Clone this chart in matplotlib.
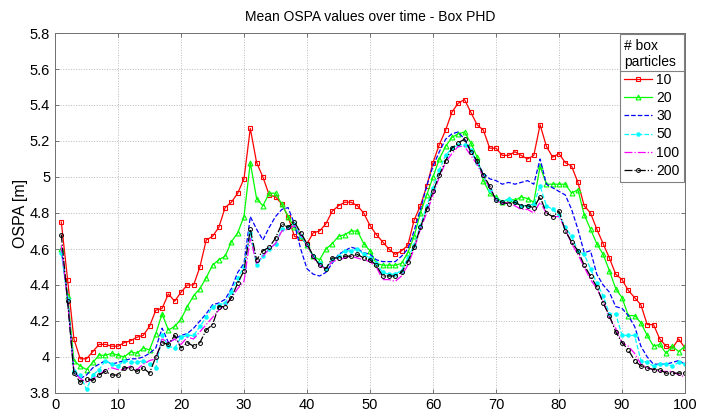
import numpy as np
import matplotlib
matplotlib.use("Agg")
import matplotlib.pyplot as plt
from matplotlib.lines import Line2D

plt.rcParams['font.family'] = ['Liberation Sans', 'DejaVu Sans']

time_steps = list(range(1, 101))

ospa_10 = [4.75, 4.43, 4.10, 3.99, 3.99, 4.03, 4.07, 4.07, 4.06, 4.06,
           4.08, 4.09, 4.11, 4.12, 4.17, 4.26, 4.27, 4.35, 4.31, 4.36,
           4.40, 4.40, 4.50, 4.65, 4.67, 4.72, 4.83, 4.86, 4.91, 4.99,
           5.27, 5.08, 5.00, 4.90, 4.89, 4.85, 4.78, 4.67, 4.66, 4.63,
           4.69, 4.70, 4.74, 4.81, 4.84, 4.86, 4.86, 4.84, 4.80, 4.73,
           4.68, 4.64, 4.60, 4.57, 4.59, 4.62, 4.76, 4.84, 4.95, 5.08,
           5.18, 5.26, 5.36, 5.41, 5.43, 5.36, 5.29, 5.26, 5.16, 5.16,
           5.12, 5.12, 5.14, 5.12, 5.10, 5.12, 5.29, 5.17, 5.11, 5.13,
           5.08, 5.06, 4.97, 4.84, 4.80, 4.71, 4.63, 4.55, 4.46, 4.43,
           4.37, 4.33, 4.29, 4.18, 4.18, 4.10, 4.06, 4.05, 4.10, 4.05]

ospa_20 = [4.60, 4.34, 3.98, 3.95, 3.93, 3.97, 4.01, 4.01, 4.02, 4.01,
           4.00, 4.03, 4.02, 4.05, 4.04, 4.13, 4.24, 4.15, 4.17, 4.21,
           4.28, 4.34, 4.38, 4.44, 4.51, 4.54, 4.56, 4.64, 4.69, 4.78,
           5.08, 4.88, 4.84, 4.91, 4.91, 4.85, 4.78, 4.72, 4.67, 4.62,
           4.56, 4.54, 4.60, 4.63, 4.67, 4.68, 4.70, 4.70, 4.63, 4.59,
           4.52, 4.51, 4.51, 4.51, 4.52, 4.58, 4.67, 4.80, 4.90, 5.00,
           5.10, 5.17, 5.22, 5.24, 5.25, 5.19, 5.11, 4.98, 4.91, 4.89,
           4.86, 4.88, 4.87, 4.89, 4.88, 4.86, 5.06, 4.96, 4.96, 4.96,
           4.96, 4.91, 4.93, 4.79, 4.71, 4.63, 4.57, 4.48, 4.38, 4.33,
           4.23, 4.23, 4.19, 4.12, 4.06, 4.07, 4.02, 4.06, 4.03, 4.06]

ospa_30 = [4.60, 4.33, 3.92, 3.88, 3.90, 3.94, 3.96, 3.98, 3.96, 3.97,
           3.98, 3.99, 3.99, 4.00, 4.02, 4.05, 4.16, 4.08, 4.10, 4.12,
           4.13, 4.16, 4.20, 4.24, 4.29, 4.30, 4.32, 4.38, 4.47, 4.52,
           4.78, 4.71, 4.65, 4.72, 4.78, 4.82, 4.83, 4.74, 4.60, 4.49,
           4.46, 4.45, 4.47, 4.52, 4.57, 4.59, 4.61, 4.60, 4.58, 4.57,
           4.54, 4.53, 4.53, 4.53, 4.56, 4.60, 4.70, 4.82, 4.95, 5.06,
           5.14, 5.21, 5.24, 5.25, 5.21, 5.15, 5.08, 5.02, 4.99, 4.98,
           4.96, 4.97, 4.96, 4.97, 4.98, 4.96, 5.10, 4.96, 4.94, 4.92,
           4.90, 4.82, 4.71, 4.58, 4.59, 4.46, 4.40, 4.36, 4.28, 4.27,
           4.23, 4.17, 4.06, 4.00, 3.96, 3.96, 3.96, 3.97, 3.98, 3.96]

ospa_50 = [4.58, 4.32, 3.92, 3.90, 3.82, 3.90, 3.93, 3.98, 3.96, 3.95,
           3.98, 3.97, 3.97, 3.98, 3.96, 3.94, 4.12, 4.06, 4.05, 4.11,
           4.12, 4.12, 4.17, 4.22, 4.28, 4.29, 4.30, 4.36, 4.44, 4.50,
           4.69, 4.51, 4.56, 4.60, 4.63, 4.71, 4.72, 4.74, 4.67, 4.62,
           4.56, 4.52, 4.49, 4.54, 4.56, 4.59, 4.59, 4.60, 4.57, 4.55,
           4.52, 4.47, 4.46, 4.46, 4.48, 4.55, 4.62, 4.73, 4.84, 4.94,
           5.04, 5.12, 5.16, 5.18, 5.18, 5.15, 5.08, 5.01, 4.93, 4.88,
           4.86, 4.88, 4.86, 4.84, 4.84, 4.85, 4.95, 4.84, 4.82, 4.79,
           4.72, 4.67, 4.59, 4.57, 4.49, 4.41, 4.34, 4.24, 4.24, 4.12,
           4.12, 4.12, 3.98, 3.97, 3.95, 3.96, 3.96, 3.95, 3.97, 3.96]

ospa_100 = [4.62, 4.31, 3.92, 3.88, 3.86, 3.88, 3.90, 3.93, 3.94, 3.93,
            3.93, 3.95, 3.93, 3.96, 3.98, 3.99, 4.10, 4.08, 4.10, 4.07,
            4.11, 4.10, 4.14, 4.18, 4.22, 4.26, 4.29, 4.33, 4.38, 4.42,
            4.66, 4.52, 4.56, 4.60, 4.63, 4.70, 4.71, 4.73, 4.68, 4.62,
            4.55, 4.51, 4.49, 4.53, 4.54, 4.55, 4.56, 4.55, 4.54, 4.53,
            4.50, 4.43, 4.43, 4.42, 4.45, 4.51, 4.60, 4.71, 4.80, 4.90,
            5.00, 5.08, 5.13, 5.17, 5.17, 5.12, 5.07, 5.00, 4.94, 4.87,
            4.85, 4.86, 4.84, 4.82, 4.82, 4.80, 4.86, 4.80, 4.78, 4.78,
            4.71, 4.63, 4.57, 4.50, 4.43, 4.38, 4.31, 4.22, 4.16, 4.08,
            4.06, 4.02, 3.96, 3.94, 3.93, 3.92, 3.92, 3.92, 3.90, 3.89]

ospa_200 = [4.68, 4.31, 3.91, 3.86, 3.88, 3.87, 3.90, 3.92, 3.90, 3.90,
            3.94, 3.94, 3.92, 3.94, 3.91, 4.00, 4.08, 4.07, 4.12, 4.05,
            4.08, 4.06, 4.08, 4.15, 4.18, 4.28, 4.28, 4.33, 4.41, 4.48,
            4.71, 4.54, 4.59, 4.61, 4.66, 4.74, 4.72, 4.75, 4.69, 4.63,
            4.56, 4.51, 4.49, 4.55, 4.55, 4.56, 4.56, 4.57, 4.55, 4.54,
            4.51, 4.45, 4.45, 4.45, 4.47, 4.53, 4.61, 4.72, 4.82, 4.92,
            5.01, 5.09, 5.16, 5.19, 5.21, 5.14, 5.09, 5.01, 4.95, 4.87,
            4.86, 4.85, 4.86, 4.84, 4.84, 4.83, 4.89, 4.80, 4.78, 4.81,
            4.70, 4.64, 4.59, 4.51, 4.45, 4.39, 4.30, 4.23, 4.14, 4.08,
            4.04, 3.98, 3.95, 3.94, 3.93, 3.93, 3.91, 3.91, 3.91, 3.91]

labels = ['10', '20', '30', '50', '100', '200']
series = [ospa_10, ospa_20, ospa_30, ospa_50, ospa_100, ospa_200]
styles = [
    dict(color='#ff0000', ls='-', marker='s', ms=3.5, mfc='none', mew=0.8),
    dict(color='#00ff00', ls='-', marker='^', ms=3.5, mfc='none', mew=0.8),
    dict(color='#0000ff', ls='--', marker=None),
    dict(color='#00ffff', ls='--', marker='.', ms=4.5),
    dict(color='#ff00ff', ls='-.', marker=None),
    dict(color='#000000', ls='-.', marker='o', ms=2.8, mfc='none', mew=0.7),
]

fig = plt.figure(figsize=(7.17, 4.12), dpi=100)
ax = fig.add_axes([55 / 717, 1 - 393 / 412, 630 / 717, 360 / 412])

for vals, lab, st in zip(series, labels, styles):
    ax.plot(time_steps, vals, label=lab, lw=0.9, **st)

ax.set_xlim(0, 100)
ax.set_ylim(3.8, 5.8)
ax.set_xticks(np.arange(0, 101, 10))
yt = np.round(np.arange(3.8, 5.81, 0.2), 1)
ax.set_yticks(yt)
ax.set_yticklabels([f"{v:g}" for v in yt])
ax.tick_params(direction='in', length=3, top=True, right=True, labelsize=10.5,
               width=0.6, color='#606060')
ax.grid(True, ls=':', color='#b8b8b8', lw=0.7)
for sp in ax.spines.values():
    sp.set_linewidth(0.7)
    sp.set_color('#707070')

ax.set_title('Mean OSPA values over time - Box PHD', fontsize=10, pad=9)
ax.set_ylabel('OSPA [m]', fontsize=11.5, labelpad=1)

leg = ax.legend(title='# box\nparticles', loc='upper right', borderaxespad=0.1,
                fontsize=10, title_fontsize=10, handlelength=2.0, handletextpad=0.3,
                labelspacing=0.3, fancybox=False, framealpha=1, edgecolor='#808080',
                borderpad=0.3)
leg._legend_box.align = 'left'
leg.get_frame().set_linewidth(0.8)

# separator line under the legend title, like MATLAB draws it
fig.canvas.draw()
rend = fig.canvas.get_renderer()
tb = leg.get_title().get_window_extent(rend)
fb = leg.get_frame().get_window_extent(rend)
yline = (tb.y0 - 2) / fig.bbox.height
fig.add_artist(Line2D([fb.x0 / fig.bbox.width, fb.x1 / fig.bbox.width], [yline, yline],
                      color='#808080', lw=0.8, transform=fig.transFigure))

fig.savefig('out.png', dpi=100)
